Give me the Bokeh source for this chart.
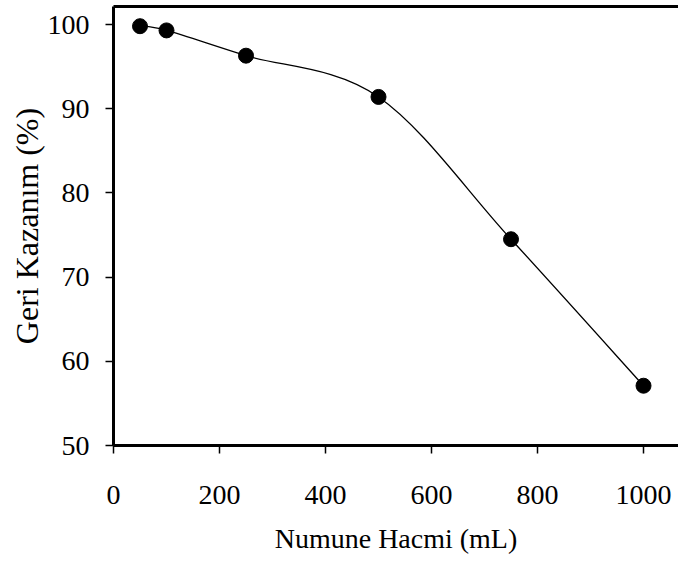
from bokeh.plotting import figure
from bokeh.models import Range1d, FixedTicker, LinearAxis, ColumnDataSource
from bokeh.embed import file_html
from bokeh.resources import INLINE

# Data
volume_ml = [50, 100, 250, 500, 750, 1000]
recovery_pct = [99.8, 99.3, 96.3, 91.4, 74.5, 57.1]

x_ticks = [0, 200, 400, 600, 800, 1000]
y_ticks = [50, 60, 70, 80, 90, 100]

x_label = "Numune Hacmi (mL)"
y_label = "Geri Kazanım (%)"

FONT = "Liberation Serif"

p = figure(width=678, height=556, output_backend="svg", toolbar_location=None,
           x_range=Range1d(0, 1066), y_range=Range1d(50, 102.14),
           min_border_left=113, min_border_right=0, min_border_top=6,
           min_border_bottom=111)
p.outline_line_color = None
p.grid.visible = False
p.background_fill_color = "white"
p.border_fill_color = "white"

# smoothed line (Excel-like smoothing: cubic Bezier segments through the data points)
n = len(volume_ml)
pts = list(zip(volume_ml, recovery_pct))
x0, y0, x1, y1, cx0, cy0, cx1, cy1 = [], [], [], [], [], [], [], []
for i in range(n - 1):
    pm = pts[i - 1] if i > 0 else pts[i]
    pa = pts[i]
    pb = pts[i + 1]
    pn = pts[i + 2] if i + 2 < n else pts[i + 1]
    x0.append(pa[0]); y0.append(pa[1]); x1.append(pb[0]); y1.append(pb[1])
    cx0.append(pa[0] + (pb[0] - pm[0]) / 6.0)
    cy0.append(pa[1] + (pb[1] - pm[1]) / 6.0)
    cx1.append(pb[0] - (pn[0] - pa[0]) / 6.0)
    cy1.append(pb[1] - (pn[1] - pa[1]) / 6.0)
seg = ColumnDataSource(dict(x0=x0, y0=y0, x1=x1, y1=y1, cx0=cx0, cy0=cy0, cx1=cx1, cy1=cy1))
p.bezier(x0="x0", y0="y0", x1="x1", y1="y1", cx0="cx0", cy0="cy0", cx1="cx1", cy1="cy1",
         source=seg, line_color="black", line_width=1.3)

p.scatter(volume_ml, recovery_pct, size=15, marker="circle", fill_color="black", line_color="black")

# axes
for ax in (p.xaxis[0], p.yaxis[0]):
    ax.axis_line_width = 3
    ax.axis_line_color = "black"
    ax.major_tick_line_width = 1.5
    ax.major_tick_line_color = "black"
    ax.major_tick_out = 8
    ax.major_tick_in = 0
    ax.minor_tick_line_color = None
    ax.major_label_text_font = FONT
    ax.major_label_text_font_size = "28px"
    ax.major_label_text_color = "black"
    ax.axis_label_text_font = FONT
    ax.axis_label_text_font_style = "normal"
    ax.axis_label_text_color = "black"

p.xaxis[0].ticker = FixedTicker(ticks=x_ticks)
p.yaxis[0].ticker = FixedTicker(ticks=y_ticks)
p.xaxis[0].axis_label = x_label
p.yaxis[0].axis_label = y_label
p.xaxis[0].axis_label_text_font_size = "28px"
p.yaxis[0].axis_label_text_font_size = "32px"
p.xaxis[0].major_label_standoff = 32
p.xaxis[0].axis_label_standoff = 16
p.yaxis[0].major_label_standoff = 16
p.yaxis[0].axis_label_standoff = 0

top = LinearAxis(ticker=FixedTicker(ticks=[]), axis_line_width=3, axis_line_color="black",
                 major_tick_line_color=None, minor_tick_line_color=None)
p.add_layout(top, "above")

open("out.html", "w").write(file_html(p, INLINE))
